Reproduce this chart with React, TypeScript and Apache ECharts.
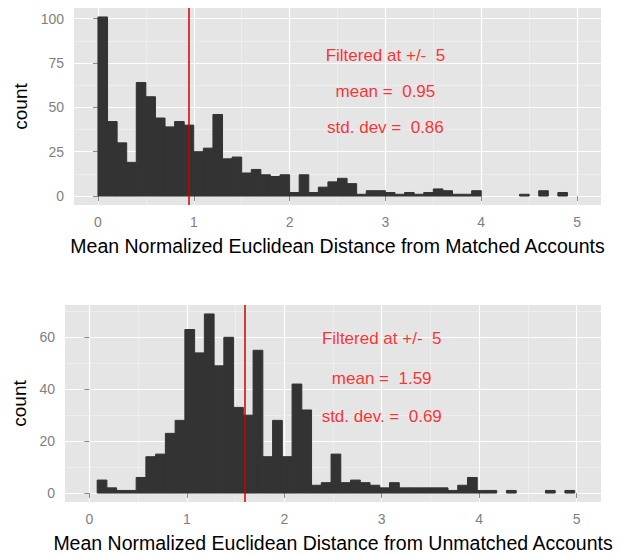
import React, { useEffect, useRef } from "react";
import * as echarts from "echarts";

// ---------- data ----------
const binWidth = 0.1;

const topBinStart = 0;
const topCounts = [
  101, 42, 30, 19, 64, 56, 44, 39, 42, 40,
  25, 27, 46, 21, 22, 13, 15, 12, 11, 12,
  2, 12, 2, 5, 8, 10, 7, 1, 3, 3,
  2, 1, 2, 1, 2, 4, 3, 1, 1, 3,
  0, 0, 0, 0, 1, 0, 3, 0, 2,
];
const topMean = 0.95;
const topNotes = ["Filtered at +/-  5", "mean =  0.95", "std. dev =  0.86"];
const topNoteY = [79, 59, 38.5];
const topTitle = "Mean Normalized Euclidean Distance from Matched Accounts";
const topYTicks = [0, 25, 50, 75, 100];
const topYMinor = [12.5, 37.5, 62.5, 87.5];

const bottomBinStart = 0.08;
const bottomCounts = [
  5, 2, 1, 1, 6, 14, 15, 23, 28, 63,
  54, 69, 49, 60, 33, 30, 55, 14, 28, 14,
  42, 32, 3, 4, 15, 4, 5, 4, 3, 2,
  4, 2, 2, 2, 2, 2, 1, 3, 6, 1,
  1, 0, 1, 0, 0, 0, 1, 0, 1,
];
const bottomMean = 1.59;
const bottomNotes = ["Filtered at +/-  5", "mean =  1.59", "std. dev. =  0.69"];
const bottomNoteY = [59.5, 44, 29.5];
const bottomTitle = "Mean Normalized Euclidean Distance from Unmatched Accounts";
const bottomYTicks = [0, 20, 40, 60];
const bottomYMinor = [10, 30, 50, 70];

const noteX = 3;
const xTicks = [0, 1, 2, 3, 4, 5];
const xMinor = [0.5, 1.5, 2.5, 3.5, 4.5];

// ---------- helpers ----------
const FONT = "Liberation Sans, Arial, Helvetica, sans-serif";

function bins(start: number, counts: number[]) {
  return counts.map((c, i) => [start + i * binWidth, start + (i + 1) * binWidth, c]);
}

function maxOf(a: number[]) {
  return Math.max(...a);
}

export default function App() {
  const ref = useRef<HTMLDivElement>(null);

  useEffect(() => {
    if (!ref.current) return;
    const chart = echarts.init(ref.current, null, { renderer: "svg" });

    const topMax = maxOf(topCounts);
    const botMax = maxOf(bottomCounts);

    const xAxisBase = (gridIndex: number, name: string, gap: number) => ({
      type: "value",
      gridIndex,
      min: -0.25,
      max: 5.25,
      name,
      nameLocation: "middle",
      nameGap: gap,
      nameTextStyle: { color: "#000", fontSize: 19.5, fontFamily: FONT },
      axisLine: { show: false },
      axisTick: { show: true, length: 5, lineStyle: { color: "#8a8a8a", width: 1 }, customValues: xTicks },
      axisLabel: { color: "#7F7F7F", fontSize: 14, fontFamily: FONT, margin: 10, customValues: xTicks },
      splitLine: { show: true, lineStyle: { color: "#ffffff", width: 1.2 } },
    });

    const yAxisBase = (gridIndex: number, max: number, ticks: number[], gap: number) => ({
      type: "value",
      gridIndex,
      min: -0.05 * max,
      max: max * 1.05,
      name: "count",
      nameLocation: "middle",
      nameRotate: 90,
      nameGap: gap,
      nameTextStyle: { color: "#000", fontSize: 19, fontFamily: FONT },
      axisLine: { show: false },
      axisTick: { show: true, length: 5, lineStyle: { color: "#8a8a8a", width: 1 }, customValues: ticks },
      axisLabel: { color: "#7F7F7F", fontSize: 14, fontFamily: FONT, margin: 10, customValues: ticks },
      splitLine: { show: true, lineStyle: { color: "#ffffff", width: 1.2 } },
    });

    const histSeries = (idx: number, start: number, counts: number[], mean: number) => ({
      type: "custom",
      xAxisIndex: idx,
      yAxisIndex: idx,
      z: 2,
      silent: true,
      encode: { x: [0, 1], y: 2 },
      data: bins(start, counts),
      renderItem: (_params: any, api: any) => {
        const v = api.value(2);
        if (!v) return null;
        const p0 = api.coord([api.value(0), v]);
        const p1 = api.coord([api.value(1), 0]);
        return {
          type: "rect",
          shape: { x: p0[0], y: p0[1], width: p1[0] - p0[0], height: p1[1] - p0[1] },
          style: { fill: "#333333", stroke: "#333333", lineWidth: 1 },
        };
      },
      markLine: {
        silent: true,
        symbol: "none",
        label: { show: false },
        lineStyle: { color: "#CC0000", width: 1.5, type: "solid" },
        data: [{ xAxis: mean }],
        z: 5,
      },
    });

    const minorSeries = (idx: number, yMinor: number[]) => ({
      type: "line",
      xAxisIndex: idx,
      yAxisIndex: idx,
      data: [],
      z: 1,
      silent: true,
      markLine: {
        silent: true,
        symbol: "none",
        label: { show: false },
        lineStyle: { color: "#F4F4F4", width: 0.6, type: "solid" },
        data: [
          ...xMinor.map((x) => ({ xAxis: x })),
          ...yMinor.map((y) => ({ yAxis: y })),
        ],
        z: 1,
      },
    });

    const noteSeries = (idx: number, notes: string[], ys: number[]) => ({
      type: "scatter",
      xAxisIndex: idx,
      yAxisIndex: idx,
      symbolSize: 0,
      silent: true,
      z: 6,
      data: notes.map((t, i) => [noteX, ys[i], t]),
      label: {
        show: true,
        position: "inside",
        formatter: (p: any) => p.data[2],
        color: "#FF0000",
        fontSize: 17,
        fontFamily: FONT,
      },
    });

    chart.setOption({
      animation: false,
      grid: [
        { left: 74, right: 22, top: 8, height: 197, show: true, backgroundColor: "#E5E5E5", borderWidth: 0 },
        { left: 65, right: 22, top: 305, height: 197, show: true, backgroundColor: "#E5E5E5", borderWidth: 0 },
      ],
      xAxis: [xAxisBase(0, topTitle, 31), xAxisBase(1, bottomTitle, 31)],
      yAxis: [yAxisBase(0, topMax, topYTicks, 44), yAxisBase(1, botMax, bottomYTicks, 35)],
      series: [
        minorSeries(0, topYMinor),
        minorSeries(1, bottomYMinor),
        histSeries(0, topBinStart, topCounts, topMean),
        histSeries(1, bottomBinStart, bottomCounts, bottomMean),
        noteSeries(0, topNotes, topNoteY),
        noteSeries(1, bottomNotes, bottomNoteY),
      ],
    });

    return () => chart.dispose();
  }, []);

  return (
    <div
      ref={ref}
      style={{ position: "fixed", left: 0, top: 0, width: 623, height: 554, background: "#fff" }}
    />
  );
}
